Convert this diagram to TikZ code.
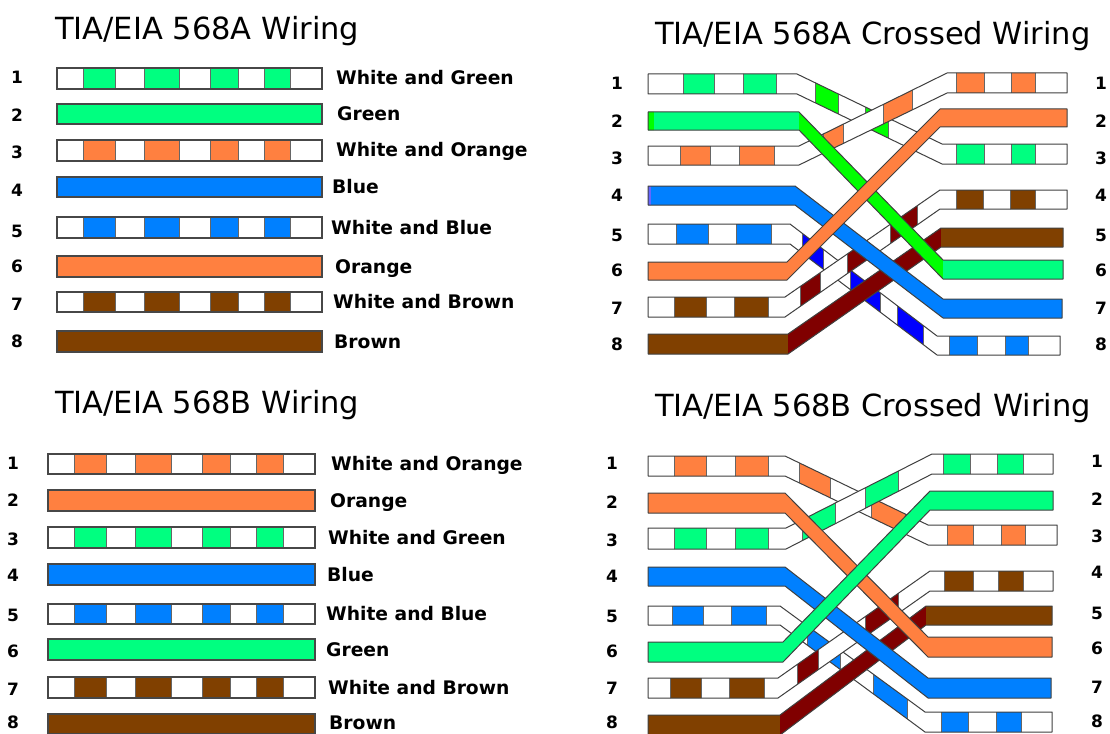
\documentclass[tikz,border=0pt]{standalone}
\usepackage{fontspec}
\setmainfont{DejaVu Sans}
\definecolor{mint}{HTML}{00FF80}
\definecolor{org}{HTML}{FF8040}
\definecolor{blu}{HTML}{0080FF}
\definecolor{brn}{HTML}{804000}
\definecolor{dred}{HTML}{800000}
\definecolor{lime}{HTML}{00FF00}
\definecolor{pblue}{HTML}{0000FF}
\tikzset{
  title/.style={font=\fontsize{30.5}{32}\selectfont, anchor=base west, inner sep=0pt},
  lab/.style={font=\fontsize{18.7}{20}\selectfont\bfseries, anchor=base west, inner sep=0pt},
  num/.style={font=\fontsize{17}{20}\selectfont\bfseries, anchor=center, inner sep=0pt},
  wl/.style={draw=black!72, line width=1.2pt},
  wo/.style={draw=black!75, line width=1pt, line join=round},
}
% straight striped wire: x0 x1 ytop ybot colour
\newcommand\swire[5]{%
  \fill[white] (#1,#3) rectangle (#2,#4);
  \foreach \a/\b in {.10/.22,.328/.46,.578/.684,.782/.88}
    \filldraw[fill=#5,draw=black!60,line width=.6pt] ({#1+\a*(#2-#1)},#3) rectangle ({#1+\b*(#2-#1)},#4);
  \draw[wl] (#1,#3) rectangle (#2,#4);}
\newcommand\pwire[5]{\filldraw[fill=#5,wl] (#1,#3) rectangle (#2,#4);}
% crossed band outline: xL yLt yLb xb1 xb2 yRt yRb xR
\newcommand\setband[8]{\def\P{(#1,#2) -- (#4,#2) -- (#5,#6) -- (#8,#6) -- (#8,#7) -- (#5,#7) -- (#4,#3) -- (#1,#3) -- cycle}}
\newcommand\vs[3]{\filldraw[fill=#1,draw=black!60,line width=.6pt] (#2,-10) rectangle (#3,800);}
\newcommand\vf[3]{\fill[#1] (#2,-10) rectangle (#3,800);}
\begin{document}
\begin{tikzpicture}[x=1pt,y=-1pt]
\useasboundingbox[fill=white] (0,0) rectangle (1110,733);

% ---------- titles
\node[title] (t1) at (55,40) {TIA/EIA 568A Wiring};
\node[title] (t2) at (655,45) {TIA/EIA 568A Crossed Wiring};
\node[title] (t3) at (55,413) {TIA/EIA 568B Wiring};
\node[title] (t4) at (655,416) {TIA/EIA 568B Crossed Wiring};

% ---------- 568A straight
\swire{57}{322}{68}{89}{mint}
\pwire{57}{322}{104}{124}{mint}
\swire{57}{322}{140}{161}{org}
\pwire{57}{322}{177}{197}{blu}
\swire{57}{322}{217}{238}{blu}
\pwire{57}{322}{256}{277}{org}
\swire{57}{322}{292}{312}{brn}
\pwire{57}{322}{331}{352}{brn}
\foreach \i/\y in {1/77.5,2/115.5,3/152,4/190,5/231,6/266,7/304,8/341}
  \node[num] (na\i) at (17,\y) {\i};
\node[lab] (la1) at (336,85) {White and Green};
\node[lab] (la2) at (337,120.5) {Green};
\node[lab] (la3) at (336,157) {White and Orange};
\node[lab] (la4) at (332,193.5) {Blue};
\node[lab] (la5) at (331,234) {White and Blue};
\node[lab] (la6) at (335,273) {Orange};
\node[lab] (la7) at (333,308.5) {White and Brown};
\node[lab] (la8) at (334,348) {Brown};

% ---------- 568B straight
\swire{48}{315}{454}{474}{org}
\pwire{48}{315}{490}{511}{org}
\swire{48}{315}{527}{548}{mint}
\pwire{48}{315}{564}{585}{blu}
\swire{48}{315}{604}{624}{blu}
\pwire{48}{315}{639}{660}{mint}
\swire{48}{315}{677}{698}{brn}
\pwire{48}{315}{714}{734}{brn}
\foreach \i/\y in {1/463,2/500,3/539,4/575,5/615,6/651,7/689,8/722}
  \node[num] (nb\i) at (13,\y) {\i};
\node[lab] (lb1) at (331,470.5) {White and Orange};
\node[lab] (lb2) at (330,507) {Orange};
\node[lab] (lb3) at (328,544) {White and Green};
\node[lab] (lb4) at (327,581) {Blue};
\node[lab] (lb5) at (326,620.5) {White and Blue};
\node[lab] (lb6) at (326,656) {Green};
\node[lab] (lb7) at (328,694) {White and Brown};
\node[lab] (lb8) at (329,729.5) {Brown};

% ---------- 568A crossed
\foreach \i/\y in {1/83.5,2/121.5,3/158.5,4/195,5/235,6/270.5,7/308,8/344.5}{
  \node[num] (nca\i) at (617,\y) {\i};
  \node[num] (nda\i) at (1101,\y) {\i};}
% white/blue 5 -> 8
\setband{648}{224}{244}{790}{937}{336}{355}{1060}
\begin{scope}\clip \P; \vf{white}{600}{1100}
 \vs{blu}{676}{708}\vs{blu}{736}{771}\vs{pblue}{802}{823}\vs{pblue}{850}{880}\vs{pblue}{897}{923}\vs{blu}{949}{977}\vs{blu}{1005}{1028}
\end{scope}\draw[wo] \P;
% white/brown 7 -> 4
\setband{648}{297}{317}{785}{940}{190}{209}{1067}
\begin{scope}\clip \P; \vf{white}{600}{1100}
 \vs{brn}{674}{706}\vs{brn}{734}{768}\vs{dred}{800}{820}\vs{dred}{847}{867}\vs{dred}{890}{917}\vs{brn}{956}{983}\vs{brn}{1010}{1035}
\end{scope}\draw[wo] \P;
% white/green 1 -> 3
\setband{648}{74}{94}{797}{942}{144}{164}{1067}
\begin{scope}\clip \P; \vf{white}{600}{1100}
 \vs{mint}{683}{714}\vs{mint}{743}{776}\vs{lime}{815}{838}\vs{lime}{865}{888}\vs{mint}{956}{984}\vs{mint}{1011}{1035}
\end{scope}\draw[wo] \P;
% white/orange 3 -> 1
\setband{648}{146}{165}{799}{947}{73}{93}{1067}
\begin{scope}\clip \P; \vf{white}{600}{1100}
 \vs{org}{680}{710}\vs{org}{739}{774}\vs{org}{823}{843}\vs{org}{883}{912}\vs{org}{956}{984}\vs{org}{1011}{1035}
\end{scope}\draw[wo] \P;
% brown 8 -> 5
\setband{648}{334}{354}{788}{941}{228}{247}{1063}
\begin{scope}\clip \P; \vf{brn}{600}{1100}\vf{dred}{788}{941}\end{scope}\draw[wo] \P;
% blue 4 -> 7
\setband{648}{186}{205}{795}{943}{299}{318}{1062}
\begin{scope}\clip \P; \vf{blu}{600}{1100}\vf{blue!60!white}{648}{651}\end{scope}\draw[wo] \P;
% green 2 -> 6
\setband{648}{112}{130}{799}{943}{260}{279}{1063}
\begin{scope}\clip \P; \vf{mint}{600}{1100}\vf{lime}{799}{943}\vf{lime}{648}{654}\end{scope}\draw[wo] \P;
% orange 6 -> 2
\setband{648}{262}{280}{787}{940}{109}{127}{1067}
\begin{scope}\clip \P; \vf{org}{600}{1100}\end{scope}\draw[wo] \P;

% ---------- 568B crossed
\foreach \i/\y/\z in {1/463/461,2/502/499,3/540/536,4/576/572,5/616/613,6/651/648,7/688/687,8/722/721}{
  \node[num] (ncb\i) at (612,\y) {\i};
  \node[num] (ndb\i) at (1097,\z) {\i};}
% white/blue 5 -> 8
\setband{648}{606}{625}{780}{925}{712}{732}{1052}
\begin{scope}\clip \P; \vf{white}{600}{1100}
 \vs{blu}{672}{703}\vs{blu}{731}{766}\vs{blu}{807}{840}\vs{blu}{873}{907}\vs{blu}{941}{968}\vs{blu}{996}{1021}
\end{scope}\draw[wo] \P;
% white/brown 7 -> 4
\setband{648}{678}{698}{778}{930}{571}{591}{1053}
\begin{scope}\clip \P; \vf{white}{600}{1100}
 \vs{brn}{670}{701}\vs{brn}{729}{764}\vs{dred}{797}{818}\vs{dred}{865}{898}\vs{brn}{944}{973}\vs{brn}{998}{1023}
\end{scope}\draw[wo] \P;
% white/orange 1 -> 3
\setband{648}{456}{476}{785}{928}{525}{545}{1057}
\begin{scope}\clip \P; \vf{white}{600}{1100}
 \vs{org}{674}{706}\vs{org}{735}{768}\vs{org}{799}{830}\vs{org}{871}{905}\vs{org}{947}{973}\vs{org}{1001}{1025}
\end{scope}\draw[wo] \P;
% white/green 3 -> 1
\setband{648}{528}{549}{786}{932}{454}{474}{1053}
\begin{scope}\clip \P; \vf{white}{600}{1100}
 \vs{mint}{674}{706}\vs{mint}{735}{768}\vs{mint}{802}{835}\vs{mint}{865}{898}\vs{mint}{943}{970}\vs{mint}{997}{1023}
\end{scope}\draw[wo] \P;
% brown 8 -> 5
\setband{648}{715}{735}{780}{926}{606}{625}{1052}
\begin{scope}\clip \P; \vf{brn}{600}{1100}\vf{dred}{780}{926}\end{scope}\draw[wo] \P;
% blue 4 -> 7
\setband{648}{567}{586}{785}{928}{678}{698}{1051}
\begin{scope}\clip \P; \vf{blu}{600}{1100}\end{scope}\draw[wo] \P;
% orange 2 -> 6
\setband{648}{493}{513}{785}{928}{637}{657}{1052}
\begin{scope}\clip \P; \vf{org}{600}{1100}\end{scope}\draw[wo] \P;
% green 6 -> 2
\setband{648}{642}{662}{783}{930}{491}{510}{1053}
\begin{scope}\clip \P; \vf{mint}{600}{1100}\end{scope}\draw[wo] \P;
\end{tikzpicture}
\end{document}
